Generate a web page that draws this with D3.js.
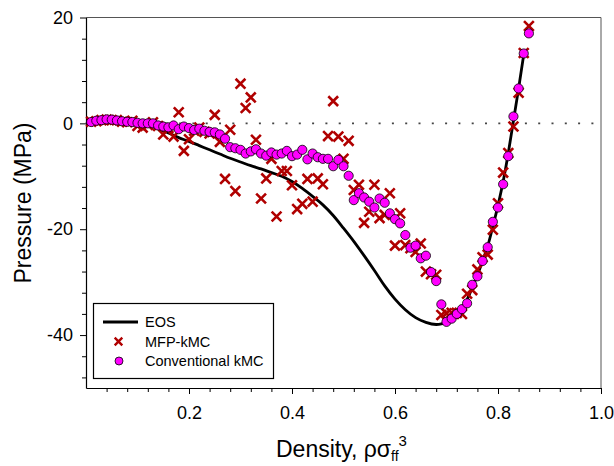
<!DOCTYPE html>
<html>
<head>
<meta charset="utf-8">
<script src="https://cdn.jsdelivr.net/npm/d3@7"></script>
<style>
  body { margin: 0; background: #fff; }
  text { font-family: "Liberation Sans", Arial, sans-serif; }
</style>
</head>
<body>
<svg id="chart" width="614" height="466"></svg>
<script>
// EOS curve
const eosDensity = [0.00, 0.02, 0.04, 0.06, 0.08, 0.10, 0.12, 0.14, 0.16, 0.18, 0.20, 0.22, 0.24, 0.26, 0.28, 0.30,
  0.32, 0.34, 0.36, 0.38, 0.40, 0.42, 0.44, 0.46, 0.48, 0.50, 0.52, 0.54, 0.56, 0.58, 0.60, 0.62, 0.64, 0.66,
  0.68, 0.69, 0.70, 0.71, 0.72, 0.73, 0.74, 0.75, 0.76, 0.77, 0.78, 0.79, 0.80, 0.81, 0.82, 0.83, 0.84, 0.85];
const eosPressure = [0.0, 0.4, 0.6, 0.55, 0.35, 0.05, -0.4, -1.0, -1.8, -2.7, -3.4, -4.2, -5.0, -5.8, -6.6, -7.3,
  -8.0, -8.6, -9.3, -10.0, -11.0, -12.3, -13.8, -15.4, -17.4, -19.8, -22.3, -25.0, -27.8, -30.7, -33.2, -35.2, -36.7, -37.6,
  -38.0, -37.9, -37.6, -37.0, -36.2, -35.0, -33.3, -31.0, -28.7, -26.0, -23.2, -19.5, -15.5, -11.0, -5.6, 0.5, 6.6, 13.0];

// MFP-kMC
const mfpDensity = [0.01, 0.02, 0.03, 0.04, 0.05, 0.06, 0.07, 0.08, 0.09, 0.10, 0.11, 0.12, 0.13, 0.14, 0.15, 0.16,
  0.17, 0.18, 0.19, 0.20, 0.21, 0.22, 0.23, 0.24, 0.25, 0.26, 0.27, 0.28, 0.29, 0.30, 0.31, 0.32, 0.33, 0.34,
  0.35, 0.36, 0.37, 0.38, 0.39, 0.40, 0.41, 0.42, 0.43, 0.44, 0.45, 0.46, 0.47, 0.48, 0.49, 0.50, 0.51, 0.52,
  0.53, 0.54, 0.55, 0.56, 0.57, 0.58, 0.59, 0.60, 0.61, 0.62, 0.63, 0.64, 0.65, 0.66, 0.67, 0.68, 0.69, 0.70,
  0.71, 0.72, 0.73, 0.74, 0.75, 0.76, 0.77, 0.78, 0.79, 0.80, 0.81, 0.82, 0.83, 0.84, 0.85, 0.86];
const mfpPressure = [0.3, 0.4, 0.6, 0.7, 0.6, 0.6, 0.3, 0.2, 0.5, -0.5, -0.8, -0.3, 0.2, -0.5, -2.1, -0.9,
  -2.5, 2.1, -5.2, -3.0, -1.4, -0.8, -1.6, -1.9, 1.6, -3.5, -10.5, -1.2, -12.8, 7.5, 2.9, 4.9, -3.1, -14.2,
  -10.4, -6.7, -17.6, -9.0, -9.0, -11.7, -16.2, -15.2, -10.5, -14.8, -10.4, -11.5, -2.4, 4.2, -2.5, -6.7, -3.3, -12.6,
  -11.6, -18.8, -16.7, -11.6, -17.9, -17.3, -13.2, -23.1, -17.0, -23.0, -23.6, -24.3, -22.7, -28.0, -28.5, -28.6, -36.2, -35.9,
  -35.8, -35.8, -36.0, -32.2, -31.5, -27.6, -25.3, -24.8, -20.1, -15.1, -9.3, -5.6, -0.6, 5.8, 13.3, 18.4];

// Conventional kMC
const convDensity = mfpDensity.slice();
const convPressure = [0.25, 0.5, 0.6, 0.75, 0.7, 0.55, 0.4, 0.3, 0.25, 0.1, 0.0, 0.0, 0.0, -0.4, -0.6, -0.75,
  -0.4, -1.1, -0.6, -0.9, -1.25, -1.0, -1.4, -1.6, -1.7, -2.1, -2.9, -4.5, -4.7, -5.0, -5.7, -5.3, -4.9, -5.7,
  -6.1, -5.5, -5.9, -5.7, -5.2, -6.2, -5.9, -5.0, -6.8, -5.7, -6.4, -6.7, -6.7, -8.1, -6.9, -8.1, -9.9, -14.5,
  -13.2, -14.0, -14.8, -15.9, -14.2, -15.0, -17.0, -18.1, -18.9, -21.1, -23.5, -23.1, -25.5, -25.0, -28.1, -29.8, -34.2, -37.5,
  -36.9, -36.0, -35.1, -34.0, -30.5, -28.9, -26.0, -23.4, -18.6, -15.9, -11.5, -6.2, 1.3, 6.6, 13.2, 17.0];

const xMajor = [0.2, 0.4, 0.6, 0.8, 1.0];
const xMinor = [0.04, 0.08, 0.12, 0.16, 0.24, 0.28, 0.32, 0.36, 0.44, 0.48, 0.52, 0.56, 0.64, 0.68, 0.72, 0.76, 0.84, 0.88, 0.92, 0.96];
const yMajor = [20, 0, -20, -40];
const yMinor = [16, 12, 8, 4, -4, -8, -12, -16, -24, -28, -32, -36, -44, -48];
const legendLabels = ["EOS", "MFP-kMC", "Conventional kMC"];

const svg = d3.select("#chart");
const plotL = 86, plotR = 601, plotT = 17.5, plotB = 388;

const x = d3.scaleLinear().domain([0, 1]).range([plotL, plotR]);
const y = d3.scaleLinear().domain([-50, 20]).range([plotB, plotT]);

// frame
svg.append("line").attr("x1", plotL).attr("x2", plotR).attr("y1", plotT).attr("y2", plotT)
  .attr("stroke", "#555").attr("stroke-width", 1);
svg.append("line").attr("x1", plotR).attr("x2", plotR).attr("y1", plotT).attr("y2", plotB)
  .attr("stroke", "#555").attr("stroke-width", 1);

// axes
function styleAxis(g) {
  g.select(".domain").attr("stroke", "#000").attr("stroke-width", 1.2);
  g.selectAll(".tick line").attr("stroke", "#000").attr("stroke-width", 1);
  g.selectAll(".tick text").attr("fill", "#000").style("font-size", "18px")
    .style("font-family", "'Liberation Sans', Arial, sans-serif");
}

svg.append("g").attr("transform", `translate(0,${plotB})`)
  .call(d3.axisBottom(x).tickValues(xMinor).tickSize(4).tickFormat(""))
  .call(g => g.select(".domain").remove())
  .selectAll("line").attr("stroke", "#000");
svg.append("g").attr("transform", `translate(0,${plotB})`)
  .call(d3.axisBottom(x).tickValues(xMajor).tickSize(6).tickSizeOuter(0).tickPadding(12).tickFormat(d3.format(".1f")))
  .call(styleAxis);

svg.append("g").attr("transform", `translate(${plotL},0)`)
  .call(d3.axisLeft(y).tickValues(yMinor).tickSize(4).tickFormat(""))
  .call(g => g.select(".domain").remove())
  .selectAll("line").attr("stroke", "#000");
svg.append("g").attr("transform", `translate(${plotL},0)`)
  .call(d3.axisLeft(y).tickValues(yMajor).tickSize(6).tickSizeOuter(0).tickPadding(7).tickFormat(d => d))
  .call(styleAxis);

// zero line
svg.append("line")
  .attr("x1", x(0)).attr("x2", x(1)).attr("y1", y(0)).attr("y2", y(0))
  .attr("stroke", "#444").attr("stroke-width", 1.6).attr("stroke-dasharray", "2,11.3");

// EOS
const eos = eosDensity.map((d, i) => [d, eosPressure[i]]);
svg.append("path").datum(eos)
  .attr("fill", "none").attr("stroke", "#000").attr("stroke-width", 2.8)
  .attr("d", d3.line().x(d => x(d[0])).y(d => y(d[1])).curve(d3.curveMonotoneX));

// crosses
function cross(g, cx, cy, s, w) {
  g.append("path")
    .attr("d", `M${cx - s},${cy - s}L${cx + s},${cy + s}M${cx - s},${cy + s}L${cx + s},${cy - s}`)
    .attr("stroke", "#b00000").attr("stroke-width", w).attr("fill", "none");
}
const crossG = svg.append("g");
mfpDensity.forEach((d, i) => cross(crossG, x(d), y(mfpPressure[i]), 4.9, 2.6));

// circles
svg.append("g").selectAll("circle")
  .data(convDensity)
  .enter()
  .append("circle")
  .attr("cx", d => x(d))
  .attr("cy", (d, i) => y(convPressure[i]))
  .attr("r", 4.6)
  .attr("fill", "#ff00ff")
  .attr("stroke", "#000")
  .attr("stroke-width", 0.8);

// legend
const lg = svg.append("g");
lg.append("rect").attr("x", 93.5).attr("y", 303.5).attr("width", 180).attr("height", 75)
  .attr("fill", "#fff").attr("stroke", "#000").attr("stroke-width", 1.2);
lg.append("line").attr("x1", 103).attr("x2", 138).attr("y1", 322).attr("y2", 322)
  .attr("stroke", "#000").attr("stroke-width", 2.8);
cross(lg, 118.5, 341.5, 3.8, 2.4);
lg.append("circle").attr("cx", 119).attr("cy", 361).attr("r", 4)
  .attr("fill", "#ff00ff").attr("stroke", "#000").attr("stroke-width", 0.8);
lg.selectAll("text.lab").data(legendLabels).enter().append("text")
  .attr("x", 145).attr("y", (d, i) => 327 + i * 19.5)
  .style("font-size", "14.5px").attr("fill", "#000").text(d => d);

// axis titles
svg.append("text")
  .attr("transform", "translate(30.5,203) rotate(-90)")
  .attr("text-anchor", "middle")
  .style("font-size", "23px")
  .text("Pressure (MPa)");

const xt = svg.append("text").attr("x", 276).attr("y", 457).style("font-size", "23px");
xt.append("tspan").text("Density, ρσ");
xt.append("tspan").attr("dy", 4).style("font-size", "14px").text("ff");
xt.append("tspan").attr("dy", -15).style("font-size", "15px").text("3");
</script>
</body>
</html>
